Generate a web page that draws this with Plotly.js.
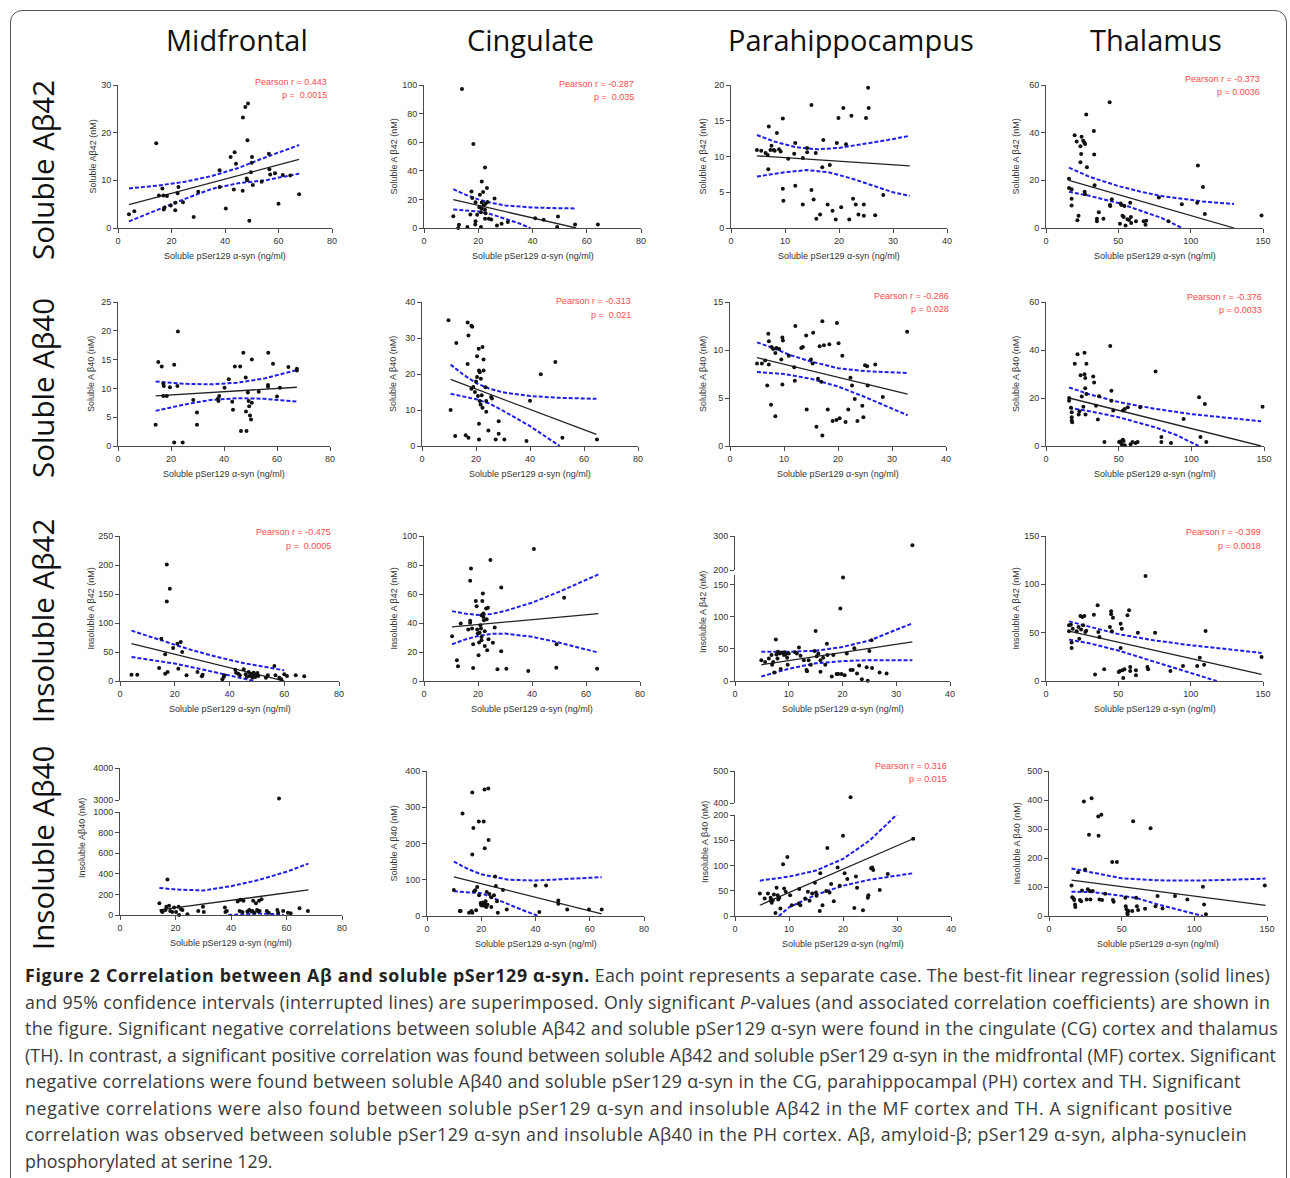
<!DOCTYPE html>
<html><head><meta charset="utf-8">
<script src="https://cdn.plot.ly/plotly-3.0.1.min.js"></script>
<style>
html,body{margin:0;padding:0;background:#fff;width:1290px;height:1178px;overflow:hidden;}
#chart{position:absolute;left:0;top:0;width:1290px;height:1178px;}
#frame{position:absolute;left:10px;top:10px;width:1277px;height:1230px;border:1.5px solid #555;border-radius:12px;box-sizing:border-box;pointer-events:none;}
#caption{position:absolute;left:25px;top:962px;font-family:'Open Sans',sans-serif;font-size:17.8px;line-height:26.5px;color:#3a3a3a;white-space:nowrap;}
#caption .ln{height:26.5px;}
#caption span{display:inline-block;white-space:pre;}
#caption .b{font-weight:bold;color:#222;}
</style></head>
<body>
<div id="chart"></div>
<div id="frame"></div>
<div id="caption">
<div class="ln"><span class="b" data-w="565">Figure 2 Correlation between Aβ and soluble pSer129 α-syn.</span><span data-w="680"> Each point represents a separate case. The best-fit linear regression (solid lines)</span></div>
<div class="ln"><span data-w="1245">and 95% confidence intervals (interrupted lines) are superimposed. Only significant <i>P</i>-values (and associated correlation coefficients) are shown in</span></div>
<div class="ln"><span data-w="1253">the figure. Significant negative correlations between soluble Aβ42 and soluble pSer129 α-syn were found in the cingulate (CG) cortex and thalamus</span></div>
<div class="ln"><span data-w="1251">(TH). In contrast, a significant positive correlation was found between soluble Aβ42 and soluble pSer129 α-syn in the midfrontal (MF) cortex. Significant</span></div>
<div class="ln"><span data-w="1216">negative correlations were found between soluble Aβ40 and soluble pSer129 α-syn in the CG, parahippocampal (PH) cortex and TH. Significant</span></div>
<div class="ln"><span data-w="1208">negative correlations were also found between soluble pSer129 α-syn and insoluble Aβ42 in the MF cortex and TH. A significant positive</span></div>
<div class="ln"><span data-w="1222">correlation was observed between soluble pSer129 α-syn and insoluble Aβ40 in the PH cortex. Aβ, amyloid-β; pSer129 α-syn, alpha-synuclein</span></div>
<div class="ln"><span>phosphorylated at serine 129.</span></div>
</div>
<script>
// ---------------- DATA ----------------
const columnTitles = ['Midfrontal','Cingulate','Parahippocampus','Thalamus'];
const rowTitles = ['Soluble Aβ42','Soluble Aβ40','Insoluble Aβ42','Insoluble Aβ40'];
const xAxisTitle = 'Soluble pSer129 α-syn (ng/ml)';

// Row 1: soluble Aβ42
const MF_sA42_x = [4.1,6.1,14.3,15.3,16.6,17,17.1,17.4,18.3,19.7,21.4,21.4,22.6,22.3,24.3,28.3,30,38,38,40.3,42.1,43.3,43.6,44.1,46.6,46.7,47.6,48.1,48.4,48.6,48.3,49.1,49.7,50,50.1,50.4,53.7,56.4,56.6,56.9,58.7,60,61.6,64.4,67.7];
const MF_sA42_y = [2.9,3.5,17.8,6.8,8.3,6.8,3.9,4.3,6.7,4.7,3.7,5.3,8.6,7.3,5.4,2.3,7.6,12.1,8.6,4.1,14.9,8.1,15.9,13.5,7.8,23.2,25.4,10.4,18.4,26.1,10,1.5,11.7,13.7,14.9,9,9.7,15.6,12.3,11.2,11.5,5.1,11.1,11,7.1];
const MF_sA42_fitX = [4.1,67.7], MF_sA42_fitY = [4.9,14.4];
const MF_sA42_hiX = [4.1,15,25,35,45,55,67.7], MF_sA42_hiY = [8.3,8.9,9.7,10.9,12.6,14.8,17.4];
const MF_sA42_loX = [4.1,15,25,35,45,55,67.7], MF_sA42_loY = [1.4,3.9,6.1,8.2,9.4,10.0,11.4];

const CG_sA42_x = [14,18.2,22.5,21.3,23.2,17.5,17.8,21.8,20.6,26,19,21.3,22.7,23.4,22,20.4,21.3,22.5,21,22.7,19.6,17.1,10.8,23.9,22.5,24.8,19,30.9,18.9,28.6,12.9,26.9,12.6,16,21,41,44.1,49.4,49.1,55.7,64.1];
const CG_sA42_y = [97.2,58.7,42.3,32.6,27.9,25.6,21,25.2,23.3,20.6,18,17.8,16.9,18.2,15.7,14.5,13.4,12.7,11.1,10.4,9.2,9.5,8.3,6.5,6.5,6,4.8,4.2,2.5,3,2.3,1.8,0,0.7,0.7,6.9,5.8,8.1,0.7,2.5,2.5];
const CG_sA42_fitX = [10.8,56.1], CG_sA42_fitY = [19.9,0];
const CG_sA42_hiX = [10.8,15,20,25,30,40,50,56.1], CG_sA42_hiY = [27.2,23.5,20.0,17.5,15.8,14.3,13.8,13.7];
const CG_sA42_loX = [10.8,15,20,25,30,35,39.2], CG_sA42_loY = [12.9,12.5,11.6,9.5,6.5,3.3,0];

const PH_sA42_x = [4.8,5.6,6.4,6.8,7.0,7.3,7.5,7.9,8.1,6.9,8.5,8.9,9.2,9.6,9.6,9.7,10.6,11.7,11.9,11.9,13.3,13.3,14.1,14.1,14.9,14.9,15.3,15.7,15.8,16.5,16.9,17.1,17.9,18.3,18.8,19.4,19.6,19.9,20.4,20.8,21.3,21.9,22.3,22.6,23.1,23.6,24.6,24.6,25.0,25.4,25.5,26.7,28.2];
const PH_sA42_y = [10.9,10.8,10.5,10.2,14.2,10.9,11.5,10.9,10.8,8.2,13.3,11.0,10.7,15.3,5.5,3.8,9.7,10.4,11.9,5.9,3.3,9.8,11.2,10.6,17.2,5.3,4.0,10.5,1.3,1.9,8.5,12.3,3.3,8.8,2.4,1.2,11.9,15.4,2.9,16.8,11.7,1.2,15.7,4.1,3.3,1.9,3.3,1.7,15.4,19.6,16.8,1.8,4.6];
const PH_sA42_fitX = [4.8,33.1], PH_sA42_fitY = [10.1,8.7];
const PH_sA42_hiX = [4.8,8,12,16,20,25,29,33.1], PH_sA42_hiY = [13.0,12.1,11.3,11.0,11.2,11.8,12.3,12.9];
const PH_sA42_loX = [4.8,10,14,18,22,26,30,33.1], PH_sA42_loY = [7.2,7.8,8.1,7.8,7.0,6.0,5.0,4.5];

const TH_sA42_x = [15.9,15.9,17.7,17.7,17.7,19.8,21.2,21.7,22.5,23.8,23.8,24.3,24.6,25.7,26.5,27,26.7,27,27.8,28.3,33.1,33.3,33.6,35.2,35.2,36.5,39.7,44,44.2,44.4,45.5,51.1,51.6,52.1,52.9,53.7,54.2,55,58.2,58.7,56.3,57.4,58.9,62.2,67.5,68.8,69.3,78,84.7,93.9,104.5,105,108.5,109.8,149];
const TH_sA42_y = [16.8,20.7,16.3,12.3,9.4,38.9,36.3,3.2,5.1,34.3,27.6,31,38.3,36.6,35.9,35.2,15.2,14.2,47.6,25.5,40.7,30.8,17.9,3.9,2.8,6.6,3.9,52.8,9.7,9.2,12.1,1.8,10.3,9.7,5.1,4.6,9.2,1,10.6,4.6,3.7,3.4,2.1,2.8,2.8,1.4,3,12.8,2.8,10,10.6,26.2,17.2,5.9,5.2];
const TH_sA42_fitX = [15.9,130], TH_sA42_fitY = [20,0];
const TH_sA42_hiX = [15.9,30,50,65,80,94,110,130], TH_sA42_hiY = [25.3,21.5,17.6,15.3,13.4,12.2,11.0,10.1];
const TH_sA42_loX = [15.9,30,50,65,80,94], TH_sA42_loY = [15.2,13.5,10.5,7.5,4.2,0];

// Row 2: soluble Aβ40
const MF_sA40_x = [14.2,15.2,16.5,17.1,17.3,17.1,18.4,19.6,21.2,21.2,22.6,22.4,24.4,28.4,29.8,29.8,37.7,37.9,38.2,40.2,41.8,43.1,43.4,44.1,46.1,46.4,47.3,48.2,48.5,48.3,49,49.3,49.5,49.8,50.2,50.5,50.5,53.1,56.6,56.6,56.7,58.5,60,61.1,64.3,67.5,67.5];
const MF_sA40_y = [3.7,14.6,13.8,10.8,10.4,8.7,8.7,10.2,14.1,0.6,19.9,10.4,0.6,8.0,5.8,3.7,8.2,7.8,8.7,10.1,11.6,7.7,6.3,13.8,13.8,2.6,16.2,11.9,2.6,6.0,9.3,7.8,6.9,5.3,4.6,15,7.5,9.4,10.6,10.3,16.2,14.3,8.6,10.1,13.7,13.4,13.1];
const MF_sA40_fitX = [14.2,67.5], MF_sA40_fitY = [8.7,10.2];
const MF_sA40_hiX = [14.2,25,35,45,55,67.5], MF_sA40_hiY = [11.2,10.8,10.7,11.0,11.7,13.2];
const MF_sA40_loX = [14.2,25,35,45,55,67.5], MF_sA40_loY = [6.1,7.2,8.0,8.3,8.2,7.7];

const CG_sA40_x = [9.8,12.7,12.3,16.9,17.2,16.9,16.2,17.2,18.3,18.6,10.6,18.3,19,19.6,20,20.4,20.4,21,21.1,21.4,21.8,20.7,21.4,21.7,22.1,22.4,21.1,21.1,22.4,22.8,22.8,23.5,23.8,23.8,24.6,25.6,25.9,27.3,28.4,28.4,30.5,38.7,40,44,49.4,52,64.8];
const CG_sA40_y = [34.9,28.6,2.8,34.3,30.7,22.8,3,2.3,33.4,33.1,10,15.9,16.4,15,17.9,19.2,24.9,27,21,20.5,18.7,13.9,12.5,11.5,14.1,10.6,6.2,1.8,27.5,24,21,16.3,12.5,9.5,4.3,13.6,13.2,1.8,6.9,3.4,1.8,1.4,12.6,19.9,23.3,2.3,1.8];
const CG_sA40_fitX = [10.6,64.6], CG_sA40_fitY = [18.5,3.2];
const CG_sA40_hiX = [10.6,15,20,25,30,40,50,64.6], CG_sA40_hiY = [22.6,20.0,17.5,15.9,14.9,13.9,13.4,13.1];
const CG_sA40_loX = [10.6,15,20,25,30,40,51], CG_sA40_loY = [14.5,13.8,13.0,11.8,9.8,5.5,0];

const PH_sA40_x = [5,5.9,6.5,6.9,7.1,7.2,7.2,7.6,7.7,8,8.4,8.4,8.6,9.1,9.5,9.7,9.8,9.7,10.9,12.1,11.9,12,13.2,13.5,14.1,14.2,15,15.3,15.4,16,16.3,16.6,16.9,17.1,17.1,17.4,18.1,18.4,19,19.7,19.8,20.1,20.3,20.8,21.9,21.4,22.3,22.6,23.1,23.6,24.5,24.7,25,25.4,25.5,26.9,28.3,32.8];
const PH_sA40_y = [8.6,8.6,8.9,6.3,11.7,10.9,8.5,4.3,10.3,10.1,3.1,9.7,10.2,10.1,9,11.3,11,6.4,9.4,12.5,8.2,6.8,10.2,10.3,11.5,3.8,9,8.6,11.8,2,7,10.4,6.7,13,1.1,10.5,3.8,10.6,2.6,2.7,12.8,10.7,2.9,9.4,3.8,2.5,7.1,6.3,4.9,2.6,4.2,3,8.4,8.3,6.3,8.5,5.1,11.9];
const PH_sA40_fitX = [5,32.9], PH_sA40_fitY = [9.2,5.4];
const PH_sA40_hiX = [5,8,11,15,20,25,32.9], PH_sA40_hiY = [10.8,10.2,9.5,8.8,8.1,7.8,7.6];
const PH_sA40_loX = [5,10,15,20,25,32.9], PH_sA40_loY = [7.7,7.5,7.0,6.2,5.1,3.2];

const TH_sA40_x = [15.9,15.9,17.2,17.7,17.7,17.7,18,19.8,21.7,22.5,23,23.8,24.6,25.7,26.5,26.5,27,27,27.8,27.8,27.2,32.5,33.1,34.4,35.7,36.5,40.2,44.2,45,45,46.3,50.3,51.1,52.1,52.9,52.9,53.4,54.2,54.2,56.3,58.2,59.5,61.6,63,64.8,75.4,79.4,79.4,86,94.7,105.3,106.3,109.3,110.3,149];
const TH_sA40_y = [20,18.9,15.9,14.1,12,10.6,9.9,34.3,38.2,13.1,14.5,29.5,20.6,16.4,38.9,29.9,28.3,24.1,34.3,21.7,13.1,29,26.5,16.8,11,20.7,1.7,41.7,23,18.9,14.8,1.7,1.9,0.7,14.8,2.6,2.1,15.4,0.3,16.1,0.7,1.7,1.2,1.7,16.1,31,3.7,1.7,1.2,11.3,20.3,3.7,17.5,1.7,16.4];
const TH_sA40_fitX = [15.9,148], TH_sA40_fitY = [20,0];
const TH_sA40_hiX = [15.9,30,50,75,100,125,148], TH_sA40_hiY = [24.4,21.5,18.3,15.5,13.3,11.7,10.3];
const TH_sA40_loX = [15.9,30,50,75,90,105], TH_sA40_loY = [15.9,14.5,12.0,7.8,4.5,0];

// Row 3: insoluble Aβ42
const MF_iA42_x = [4.2,6.3,14.3,15.1,16.5,16.5,17.1,17.1,17.4,18.2,19.4,21,21.3,22.2,22.7,24.3,28.3,29.9,30.2,37.4,37.9,38.1,42.1,42.4,43.2,43.8,45.2,45.9,46.3,47,47.3,47.7,48,48.4,48.8,49.1,49.4,49.8,50.2,50.5,53.3,54,56.4,56.8,58.2,58.9,60,61,64.2,67.3];
const MF_iA42_y = [10.9,10.9,22.4,73,46,12.6,137,201,15.5,159,56.9,64.4,21.3,67.2,50,9.8,15.5,8,10.9,2.9,6.9,9.8,19.5,14.4,12.6,9.8,20.1,11.5,6.9,15.5,8.6,12.6,9.8,5.7,14.4,11.5,6.9,9.8,13.8,8.6,5.7,9.8,25.9,9.8,5.7,2.9,11.5,8.6,9.8,8];
const MF_iA42_fitX = [4.2,60], MF_iA42_fitY = [64.4,0];
const MF_iA42_hiX = [4.2,15,25,35,45,60], MF_iA42_hiY = [86.8,70,55,42,31,18.4];
const MF_iA42_loX = [4.2,20,30,40,49], MF_iA42_loY = [41.4,30,20,10,0];

const CG_iA42_x = [10.4,12.2,12.6,13.6,16.4,17.1,17.1,17.1,17.4,17.8,18.2,18.2,19.2,19.5,19.7,19.9,20.2,20.4,20.6,20.9,21.1,21.3,21.3,21.3,21.6,21.8,22,22,22.2,22.5,22.5,23,23.2,23.4,23.7,23.9,24.6,25.5,26.2,27.2,28.6,28.6,30.5,40.7,38.6,49.1,49,51.9,64.1];
const CG_iA42_y = [30.9,14.3,10.1,39.6,35.5,40.1,41.5,69.1,77.6,36.2,25.3,9,55.1,51.6,35.5,32.7,17.7,26.5,33.2,38.5,36.2,45.4,30.4,28.1,55.1,60.4,46.5,44.2,41.9,34.3,24.2,50,42.6,21.2,50.5,28.8,83.4,26.3,36.9,8.1,64.5,20.5,8.5,91,6.9,25.3,9.2,57.4,8.5];
const CG_iA42_fitX = [10.4,64.6], CG_iA42_fitY = [37.3,46.5];
const CG_iA42_hiX = [10.4,15,20,25,30,40,50,64.6], CG_iA42_hiY = [48.2,46.5,45.6,46.2,48.3,54,61.5,73.5];
const CG_iA42_loX = [10.4,15,20,25,30,40,50,64.6], CG_iA42_loY = [25.3,28.5,31,32.5,32.7,30.5,26.5,19.6];

const PH_iA42_x = [4.9,5.6,6.3,6.8,6.9,7.1,7.3,7.6,7.7,7.9,8,8.3,8.5,8.7,9.1,9.2,9.4,9.7,9.8,10,11.2,11.5,11.9,12.2,12.8,13.3,13.4,13.7,14.1,14.8,15,15.2,15.5,15.9,15.9,16.4,16.8,17.1,17.2,18,18.3,18.9,19.2,19.6,19.8,20.1,20.4,20.8,21.5,21.9,22.2,22.7,23.1,23.6,24.5,24.7,25,25.4,25.5,26.9,28.2,33];
const PH_iA42_y = [32.3,29.6,34.9,40.3,25.3,29.6,13.4,64.5,41.4,34.9,45.7,43,18.8,44.1,40.3,44.6,41.4,36,25.3,43,44.6,43,52.2,39.2,32.3,17.2,15.1,32.3,25.3,46.8,78,38.7,43,32.3,14.5,36,25.3,58.1,40.3,7,40.3,10.8,10.8,113,10.8,161,9.1,43,17.2,17.2,51.1,11.8,24.2,2.7,21.5,0.5,46.8,63.4,20.4,13.4,11.8,273];
const PH_iA42_fitX = [4.9,33], PH_iA42_fitY = [25.3,60.8];
const PH_iA42_hiX = [4.9,10,15,20,25,30,33], PH_iA42_hiY = [45.7,45.5,47,53,63,79,89.8];
const PH_iA42_loX = [4.9,10,15,20,25,33], PH_iA42_loY = [7,19,27.5,31,32.5,32.3];

const TH_iA42_x = [15.9,15.9,17.2,17.7,17.7,18.5,21.2,22.5,23,23.8,24.3,25.1,25.7,26.5,27.2,27.8,33.1,33.9,35.7,37,36.2,40.2,44.2,45,45,45.5,46.3,50.3,51.1,51.6,51.6,52.4,52.9,53.4,54.2,56.3,57.4,58.2,58.2,62.2,62.2,63.5,70.1,70.6,68.8,75.4,86,94.7,104.5,106.3,109.3,110.3,149];
const TH_iA42_y = [57.6,51.4,58.3,39.7,34.1,54.1,51.4,55.9,43.8,67.2,53.4,66.2,57.6,67.2,50.7,52.1,68.6,6.6,78.3,45.5,50.7,12.1,55.9,72.1,69,51.4,65.5,9.3,10.3,59.3,34.1,54.1,11,3.1,12.1,67.9,73.1,14.5,10.3,11,5.9,50,14.5,12.1,108.6,50,10.3,15.5,15.5,24.1,16.9,51.7,24.8];
const TH_iA42_fitX = [15.9,149], TH_iA42_fitY = [51.7,6.9];
const TH_iA42_hiX = [15.9,30,50,75,100,125,149], TH_iA42_hiY = [61.7,56,48.5,42,37,33,29];
const TH_iA42_loX = [15.9,30,50,75,100,118], TH_iA42_loY = [42.8,39,31.5,20,8,0];

// Row 4: insoluble Aβ40
const MF_iA40_x = [14.2,15,15.3,16.4,16.7,17.1,17.7,18.1,18.8,19.5,20.2,21.1,21.3,22,22.5,24.3,28.2,29.9,30.2,37.8,38,38.5,42.4,43.1,43.4,44.1,44.5,45.9,46.6,47.3,47.7,48,48.4,49,49.4,49.8,50.1,50.3,51,52.9,53.6,56.7,57,57.3,58.8,60.5,61.5,64.7,67.7];
const MF_iA40_y = [115,39,30,49,79,345,89,39,30,72,30,79,0,56,49,7,39,79,30,72,30,39,131,39,148,30,138,33,49,33,39,138,23,115,49,33,138,39,154,39,23,49,23,3048,39,23,16,66,39];
const MF_iA40_fitX = [14.2,67.9], MF_iA40_fitY = [49,243];
const MF_iA40_hiX = [14.2,20,30,40,50,60,67.9], MF_iA40_hiY = [262,248,238,280,340,420,499];
const MF_iA40_loX = [39,45,50,55,59], MF_iA40_loY = [0,10,14,10,0];

const CG_iA40_x = [9.9,12.1,12.4,13.1,15.5,16.4,16.7,16.7,16.7,17.1,17.4,17.8,18.1,18.5,19.1,19.2,19.8,19.9,20.2,20.6,20.9,21.2,21.2,21.3,21.3,21.6,21.9,22,22.3,22.6,22.7,23,23.7,23.7,24.7,25.1,25.4,25.8,26.1,28,29.4,40,41.4,43.9,48.4,48.4,51.7,59.7,64.4];
const CG_iA40_y = [72,14,14,283,9,14,9,341,170,243,68,71,16,80,261,57,36,31,29,37,261,28,349,187,34,41,25,66,31,352,210,61,25,52,57,109,83,41,9,72,18,84,11,84,43,34,18,18,18];
const CG_iA40_fitX = [9.9,64.4], CG_iA40_fitY = [108,6];
const CG_iA40_hiX = [9.9,15,20,30,40,50,64.4], CG_iA40_hiY = [150,130,115,100,98,102,107];
const CG_iA40_loX = [9.9,15,20,25,30,35,41], CG_iA40_loY = [68,66,63,48,32,17,0];

const PH_iA40_x = [4.6,5.5,6.1,6.6,6.6,6.8,7,7.2,7.5,7.7,7.9,8,8.2,8.4,8.9,9.1,9.4,9.7,10.2,10.5,11.8,11.9,12.1,13,13.5,13.8,14.3,14.8,15,15.1,15.7,15.8,16.2,16.9,17.1,17.5,17.8,18.3,19,19.4,20,20.3,20.8,21.4,22.1,22.4,22.6,23.7,24.6,24.7,25.2,25.4,25.6,26.8,28.3,33];
const PH_iA40_y = [44.7,34.7,44.7,36,30,26,31.3,42.7,6,56,41.3,32.7,36,14.7,102.7,54.7,48,116.7,41.3,21.3,24.7,53.3,21.3,34.7,48,30,44.7,66,46.7,40,10,84.7,21.3,49.3,134.7,46.7,63.3,29.3,96,60,159,84.7,73.3,418,16,78,56,11.3,36,41.3,94.7,96,91.3,51.3,83.3,153];
const PH_iA40_fitX = [4.6,33], PH_iA40_fitY = [21.3,153];
const PH_iA40_hiX = [4.6,10,15,20,25,30], PH_iA40_hiY = [70,78,90,113,150,201];
const PH_iA40_loX = [8.1,10,15,20,25,33], PH_iA40_loY = [0,17,42,60,72,84.7];

const TH_iA40_x = [15.5,16,16.8,17.3,17.9,18.1,20,21.3,22.1,22.7,24,24.8,25.9,26.7,27.5,28,28.5,29.3,30.1,33.9,34.1,34.7,36,36.5,38.7,43.5,44,44.5,46.7,52.5,52.8,53.3,53.9,54.1,54.7,57.3,57.9,60,60.5,61.3,66.1,69.9,73.3,74.7,78.1,86.7,95.2,105.9,106.7,108,148.5];
const TH_iA40_y = [105,65,61,55,40,31,151,55,51,88,395,160,57,92,280,86,57,406,86,343,277,57,349,55,77,186,55,49,186,63,34,23,11,6,17,17,327,63,34,21,25,303,34,69,26,69,57,101,40,6,105];
const TH_iA40_fitX = [15.5,149], TH_iA40_fitY = [124,37];
const TH_iA40_hiX = [15.5,30,50,75,100,125,149], TH_iA40_hiY = [164,150,130,123,122,125,129];
const TH_iA40_loX = [15.5,30,50,60,75,90,106], TH_iA40_loY = [84,82,70,62,40,20,0];

// statistics shown (only significant ones)
const stats = {
  MF_sA42:['Pearson r = 0.443','p =  0.0015'], CG_sA42:['Pearson r = -0.287','p =  0.035'], TH_sA42:['Pearson r = -0.373','p = 0.0036'],
  CG_sA40:['Pearson r = -0.313','p =  0.021'], PH_sA40:['Pearson r = -0.286','p = 0.028'], TH_sA40:['Pearson r = -0.376','p = 0.0033'],
  MF_iA42:['Pearson r = -0.475','p =  0.0005'], TH_iA42:['Pearson r = -0.399','p = 0.0018'], PH_iA40:['Pearson r = 0.316','p = 0.015']
};

const series = {
  MF_sA42:[MF_sA42_x,MF_sA42_y,MF_sA42_fitX,MF_sA42_fitY,MF_sA42_hiX,MF_sA42_hiY,MF_sA42_loX,MF_sA42_loY],
  CG_sA42:[CG_sA42_x,CG_sA42_y,CG_sA42_fitX,CG_sA42_fitY,CG_sA42_hiX,CG_sA42_hiY,CG_sA42_loX,CG_sA42_loY],
  PH_sA42:[PH_sA42_x,PH_sA42_y,PH_sA42_fitX,PH_sA42_fitY,PH_sA42_hiX,PH_sA42_hiY,PH_sA42_loX,PH_sA42_loY],
  TH_sA42:[TH_sA42_x,TH_sA42_y,TH_sA42_fitX,TH_sA42_fitY,TH_sA42_hiX,TH_sA42_hiY,TH_sA42_loX,TH_sA42_loY],
  MF_sA40:[MF_sA40_x,MF_sA40_y,MF_sA40_fitX,MF_sA40_fitY,MF_sA40_hiX,MF_sA40_hiY,MF_sA40_loX,MF_sA40_loY],
  CG_sA40:[CG_sA40_x,CG_sA40_y,CG_sA40_fitX,CG_sA40_fitY,CG_sA40_hiX,CG_sA40_hiY,CG_sA40_loX,CG_sA40_loY],
  PH_sA40:[PH_sA40_x,PH_sA40_y,PH_sA40_fitX,PH_sA40_fitY,PH_sA40_hiX,PH_sA40_hiY,PH_sA40_loX,PH_sA40_loY],
  TH_sA40:[TH_sA40_x,TH_sA40_y,TH_sA40_fitX,TH_sA40_fitY,TH_sA40_hiX,TH_sA40_hiY,TH_sA40_loX,TH_sA40_loY],
  MF_iA42:[MF_iA42_x,MF_iA42_y,MF_iA42_fitX,MF_iA42_fitY,MF_iA42_hiX,MF_iA42_hiY,MF_iA42_loX,MF_iA42_loY],
  CG_iA42:[CG_iA42_x,CG_iA42_y,CG_iA42_fitX,CG_iA42_fitY,CG_iA42_hiX,CG_iA42_hiY,CG_iA42_loX,CG_iA42_loY],
  PH_iA42:[PH_iA42_x,PH_iA42_y,PH_iA42_fitX,PH_iA42_fitY,PH_iA42_hiX,PH_iA42_hiY,PH_iA42_loX,PH_iA42_loY],
  TH_iA42:[TH_iA42_x,TH_iA42_y,TH_iA42_fitX,TH_iA42_fitY,TH_iA42_hiX,TH_iA42_hiY,TH_iA42_loX,TH_iA42_loY],
  MF_iA40:[MF_iA40_x,MF_iA40_y,MF_iA40_fitX,MF_iA40_fitY,MF_iA40_hiX,MF_iA40_hiY,MF_iA40_loX,MF_iA40_loY],
  CG_iA40:[CG_iA40_x,CG_iA40_y,CG_iA40_fitX,CG_iA40_fitY,CG_iA40_hiX,CG_iA40_hiY,CG_iA40_loX,CG_iA40_loY],
  PH_iA40:[PH_iA40_x,PH_iA40_y,PH_iA40_fitX,PH_iA40_fitY,PH_iA40_hiX,PH_iA40_hiY,PH_iA40_loX,PH_iA40_loY],
  TH_iA40:[TH_iA40_x,TH_iA40_y,TH_iA40_fitX,TH_iA40_fitY,TH_iA40_hiX,TH_iA40_hiY,TH_iA40_loX,TH_iA40_loY]
};

// ---------------- LAYOUT (pixel geometry of each panel) ----------------
const W = 1290, H = 1178;
const panels = [
 {id:'MF_sA42',x0:118,x1:332,yb:228,yt:85,xmax:80,xdt:20,ymax:30,ydt:10,yTitle:'Soluble Aβ42 (nM)',yto:26,sx:329,sy:[82,95]},
 {id:'CG_sA42',x0:424,x1:641,yb:228,yt:85,xmax:80,xdt:20,ymax:100,ydt:20,yTitle:'Soluble A β42 (nM)',yto:31,sx:636,sy:[84,97]},
 {id:'PH_sA42',x0:731,x1:947,yb:228,yt:85,xmax:40,xdt:10,ymax:20,ydt:5,yTitle:'Soluble A β42 (nM)',yto:29},
 {id:'TH_sA42',x0:1046,x1:1263,yb:228,yt:85,xmax:150,xdt:50,ymax:60,ydt:20,yTitle:'Soluble A β42 (nM)',yto:31,sx:1262,sy:[79,92]},
 {id:'MF_sA40',x0:118,x1:330,yb:446,yt:302,xmax:80,xdt:20,ymax:25,ydt:5,yTitle:'Soluble A β40 (nM)',yto:27},
 {id:'CG_sA40',x0:422,x1:638,yb:446,yt:302,xmax:80,xdt:20,ymax:40,ydt:10,yTitle:'Soluble A β40 (nM)',yto:29,sx:633,sy:[301,315]},
 {id:'PH_sA40',x0:730,x1:946,yb:446,yt:302,xmax:40,xdt:10,ymax:15,ydt:5,yTitle:'Soluble A β40 (nM)',yto:27,sx:951,sy:[296,309]},
 {id:'TH_sA40',x0:1046,x1:1264,yb:446,yt:302,xmax:150,xdt:50,ymax:60,ydt:20,yTitle:'Soluble A β40 (nM)',yto:30,sx:1264,sy:[297,310]},
 {id:'MF_iA42',x0:120,x1:339,yb:681,yt:536,xmax:80,xdt:20,ymax:250,ydt:50,yTitle:'Insoluble A β42 (nM)',yto:30,sx:333,sy:[532,546]},
 {id:'CG_iA42',x0:424,x1:640,yb:681,yt:536,xmax:80,xdt:20,ymax:100,ydt:20,yTitle:'Insoluble A β42 (nM)',yto:31},
 {id:'PH_iA42',x0:735,x1:950,yb:681,yt:575,xmax:40,xdt:10,ymax:165,ydt:50,yTitle:'Insoluble A β42 (nM)',yto:32,ytc:612,
   brk:{lo:200,hi:300,yb:570,yt:536,ticks:[200,300]}},
 {id:'TH_iA42',x0:1046,x1:1263,yb:681,yt:536,xmax:150,xdt:50,ymax:150,ydt:50,yTitle:'Insoluble A β42 (nM)',yto:31,sx:1263,sy:[532,546]},
 {id:'MF_iA40',x0:120,x1:342,yb:915,yt:812,xmax:80,xdt:20,ymax:1000,ydt:200,yTitle:'Insoluble Aβ40 (nM)',yto:38,ytc:838,
   brk:{lo:3000,hi:4000,yb:800,yt:768,ticks:[3000,4000]}},
 {id:'CG_iA40',x0:427,x1:644,yb:916,yt:771,xmax:80,xdt:20,ymax:400,ydt:100,yTitle:'Soluble A β40 (nM)',yto:34},
 {id:'PH_iA40',x0:735,x1:951,yb:916,yt:815,xmax:40,xdt:10,ymax:200,ydt:50,yTitle:'Insoluble A β40 (nM)',yto:30,ytc:842,sx:949,sy:[766,779],
   brk:{lo:400,hi:500,yb:803,yt:771,ticks:[400,500]}},
 {id:'TH_iA40',x0:1049,x1:1267,yb:916,yt:771,xmax:150,xdt:50,ymax:500,ydt:100,yTitle:'Insoluble A β40 (nM)',yto:33}
];

const px = v => v / W, py = v => 1 - v / H;
const TICKFONT = {family:'Liberation Sans, Arial, sans-serif', size:9, color:'#333'};
const AX = {showgrid:false, zeroline:false, showline:true, linecolor:'#4a4a4a', linewidth:1,
  ticks:'outside', ticklen:4, tickwidth:1, tickcolor:'#4a4a4a', tickfont:TICKFONT, fixedrange:true, automargin:false};
const DOT = {color:'#111', size:4};
const FIT = {color:'#222', width:1.3};
const CI = {color:'rgb(30,30,235)', width:2, dash:'4px,2px'};

const layout = {width:W, height:H, margin:{l:0,r:0,t:0,b:0}, paper_bgcolor:'rgba(0,0,0,0)', plot_bgcolor:'rgba(0,0,0,0)',
  showlegend:false, annotations:[]};
const traces = [];
let extraY = panels.length;

panels.forEach((p, i) => {
  const n = i + 1;
  const xid = 'x' + (n === 1 ? '' : n), yid = 'y' + (n === 1 ? '' : n);
  layout['xaxis' + (n === 1 ? '' : n)] = Object.assign({}, AX, {domain:[px(p.x0), px(p.x1)], range:[0, p.xmax], anchor:yid, tick0:0, dtick:p.xdt});
  layout['yaxis' + (n === 1 ? '' : n)] = Object.assign({}, AX, {domain:[py(p.yb), py(p.yt)], range:[0, p.ymax], anchor:xid, tick0:0, dtick:p.ydt});
  const [sx, sy, fx, fy, hx, hy, lx, ly] = series[p.id];
  const lowX = [], lowY = [], upX = [], upY = [];
  sx.forEach((v, k) => { if (p.brk && sy[k] > p.ymax) { upX.push(v); upY.push(sy[k]); } else { lowX.push(v); lowY.push(sy[k]); } });
  traces.push({type:'scatter', mode:'lines', x:hx, y:hy, xaxis:xid, yaxis:yid, line:CI, hoverinfo:'skip'});
  traces.push({type:'scatter', mode:'lines', x:lx, y:ly, xaxis:xid, yaxis:yid, line:CI, hoverinfo:'skip'});
  traces.push({type:'scatter', mode:'lines', x:fx, y:fy, xaxis:xid, yaxis:yid, line:FIT, hoverinfo:'skip'});
  traces.push({type:'scatter', mode:'markers', x:lowX, y:lowY, xaxis:xid, yaxis:yid, marker:DOT, cliponaxis:false});
  if (p.brk) {
    extraY += 1;
    const uid = 'y' + extraY;
    layout['yaxis' + extraY] = Object.assign({}, AX, {domain:[py(p.brk.yb), py(p.brk.yt)], range:[p.brk.lo, p.brk.hi], anchor:xid, tickvals:p.brk.ticks});
    traces.push({type:'scatter', mode:'markers', x:upX, y:upY, xaxis:xid, yaxis:uid, marker:DOT, cliponaxis:false});
  }
  // axis titles
  layout.annotations.push({xref:'paper', yref:'paper', x:px((p.x0 + p.x1) / 2), y:py(p.yb + 28), text:xAxisTitle, showarrow:false,
    font:{family:'Liberation Sans, Arial, sans-serif', size:9, color:'#333'}, xanchor:'center', yanchor:'middle'});
  const topPx = p.brk ? p.brk.yt : p.yt;
  layout.annotations.push({xref:'paper', yref:'paper', x:px(p.x0 - p.yto), y:py(p.ytc || (p.yb + topPx) / 2), text:p.yTitle, textangle:-90, showarrow:false,
    font:{family:'Liberation Sans, Arial, sans-serif', size:9, color:'#333'}, xanchor:'center', yanchor:'middle'});
  if (stats[p.id]) {
    stats[p.id].forEach((t, k) => layout.annotations.push({xref:'paper', yref:'paper', x:px(p.sx), y:py(p.sy[k]), text:t, showarrow:false,
      font:{family:'Liberation Sans, Arial, sans-serif', size:9, color:'#ff4b4b'}, xanchor:'right', yanchor:'middle'}));
  }
});

const colX = [237, 530, 851, 1156];
columnTitles.forEach((t, k) => layout.annotations.push({xref:'paper', yref:'paper', x:px(colX[k]), y:py(40), text:t, showarrow:false,
  font:{family:'Open Sans, sans-serif', size:29, color:'#111'}, xanchor:'center', yanchor:'middle'}));
const rowY = [170, 388, 621, 848];
rowTitles.forEach((t, k) => layout.annotations.push({xref:'paper', yref:'paper', x:px(42), y:py(rowY[k]), text:t, textangle:-90, showarrow:false,
  font:{family:'Open Sans, sans-serif', size:29.5, color:'#111'}, xanchor:'center', yanchor:'middle'}));

Plotly.newPlot('chart', traces, layout, {staticPlot:true, displayModeBar:false});

// stretch caption lines to the measured widths of the printed lines
function fitCaption() {
  document.querySelectorAll('#caption span[data-w]').forEach(s => {
    s.style.letterSpacing = '0px';
    const w = s.getBoundingClientRect().width;
    const n = s.textContent.length;
    const target = +s.dataset.w;
    if (n > 1 && w < target) s.style.letterSpacing = ((target - w) / n).toFixed(3) + 'px';
  });
}
if (document.fonts && document.fonts.ready) document.fonts.ready.then(fitCaption); else fitCaption();
fitCaption();
</script>
</body></html>
